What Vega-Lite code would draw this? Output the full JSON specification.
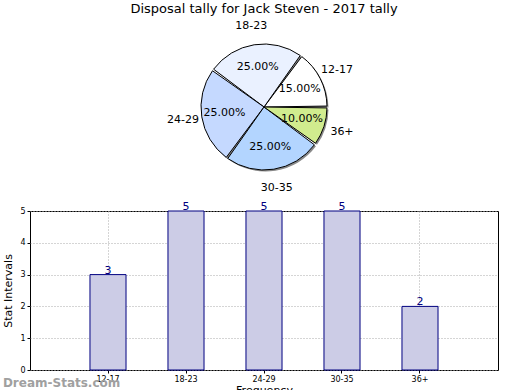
{
  "$schema": "https://vega.github.io/schema/vega-lite/v6.json",
  "padding": {"left": 2, "top": 3, "right": 5, "bottom": 0},
  "background": "white",
  "bounds": "flush",
  "config": {
    "font": "DejaVu Sans",
    "view": {"stroke": "black", "strokeWidth": 1}
  },
  "data": {
    "values": [
      {"age": "12-17", "count": 3, "share": 0.15},
      {"age": "18-23", "count": 5, "share": 0.25},
      {"age": "24-29", "count": 5, "share": 0.25},
      {"age": "30-35", "count": 5, "share": 0.25},
      {"age": "36+", "count": 2, "share": 0.10}
    ]
  },
  "spacing": 16,
  "vconcat": [
    {
      "width": 468,
      "height": 176,
      "view": {"stroke": null},
      "title": {"text": "Disposal tally for Jack Steven - 2017 tally", "fontSize": 13, "fontWeight": "normal", "color": "black", "anchor": "middle", "offset": 3},
      "encoding": {
        "theta": {"field": "share", "type": "quantitative", "stack": true, "scale": {"range": [1.5708, -4.7124]}},
        "order": {"field": "age", "type": "ordinal"}
      },
      "layer": [
        {
          "mark": {"type": "arc", "outerRadius": 63, "fill": "#888888", "xOffset": 1.5, "yOffset": 1.5, "padAngle": 0.03}
        },
        {
          "mark": {"type": "arc", "outerRadius": 63, "stroke": "black", "strokeWidth": 1, "padAngle": 0.03},
          "encoding": {
            "color": {"field": "age", "type": "nominal", "legend": null,
              "scale": {"domain": ["12-17", "18-23", "24-29", "30-35", "36+"], "range": ["#ffffff", "#eaf1ff", "#c5d9ff", "#b3d5ff", "#d1ec8e"]}}
          }
        },
        {
          "mark": {"type": "text", "radius": 40, "fontSize": 11, "color": "black"},
          "encoding": {"text": {"field": "share", "type": "quantitative", "format": ".2%"}}
        },
        {
          "mark": {"type": "text", "radius": 82, "fontSize": 11, "color": "black"},
          "encoding": {"text": {"field": "age", "type": "nominal"}}
        }
      ]
    },
    {
      "width": 468,
      "height": 159,
      "title": {"text": "Dream-Stats.com", "orient": "bottom", "anchor": "start", "frame": "bounds", "fontSize": 12, "fontWeight": "bold", "color": "#a0a0a0", "offset": -17},
      "encoding": {
        "x": {"field": "age", "type": "nominal", "sort": null,
          "scale": {"paddingInner": 0.538, "paddingOuter": 0.769},
          "axis": {"title": "Frequency", "titleFontSize": 11, "titleFontWeight": "normal", "titleColor": "black", "titlePadding": 1,
            "labelAngle": 0, "labelFontSize": 8, "labelColor": "black", "domain": false, "tickSize": 3, "tickColor": "black",
            "grid": true, "gridDash": [1, 2], "gridColor": "#aaaaaa"}},
        "y": {"field": "count", "type": "quantitative", "scale": {"domain": [0, 5], "nice": false},
          "axis": {"title": "Stat Intervals", "titleFontSize": 11, "titleFontWeight": "normal", "titleColor": "black", "titlePadding": 6,
            "values": [0, 1, 2, 3, 4, 5], "format": "d", "labelFontSize": 8, "labelColor": "black", "domain": false, "tickSize": 3, "tickColor": "black",
            "grid": true, "gridDash": [1, 2], "gridColor": "#aaaaaa"}}
      },
      "layer": [
        {"mark": {"type": "bar", "fill": "#ccccE6", "stroke": "#000080", "strokeWidth": 1}},
        {"mark": {"type": "text", "baseline": "bottom", "dy": 1, "fontSize": 11, "color": "#000080"},
          "encoding": {"text": {"field": "count", "type": "quantitative"}}}
      ]
    }
  ]
}
